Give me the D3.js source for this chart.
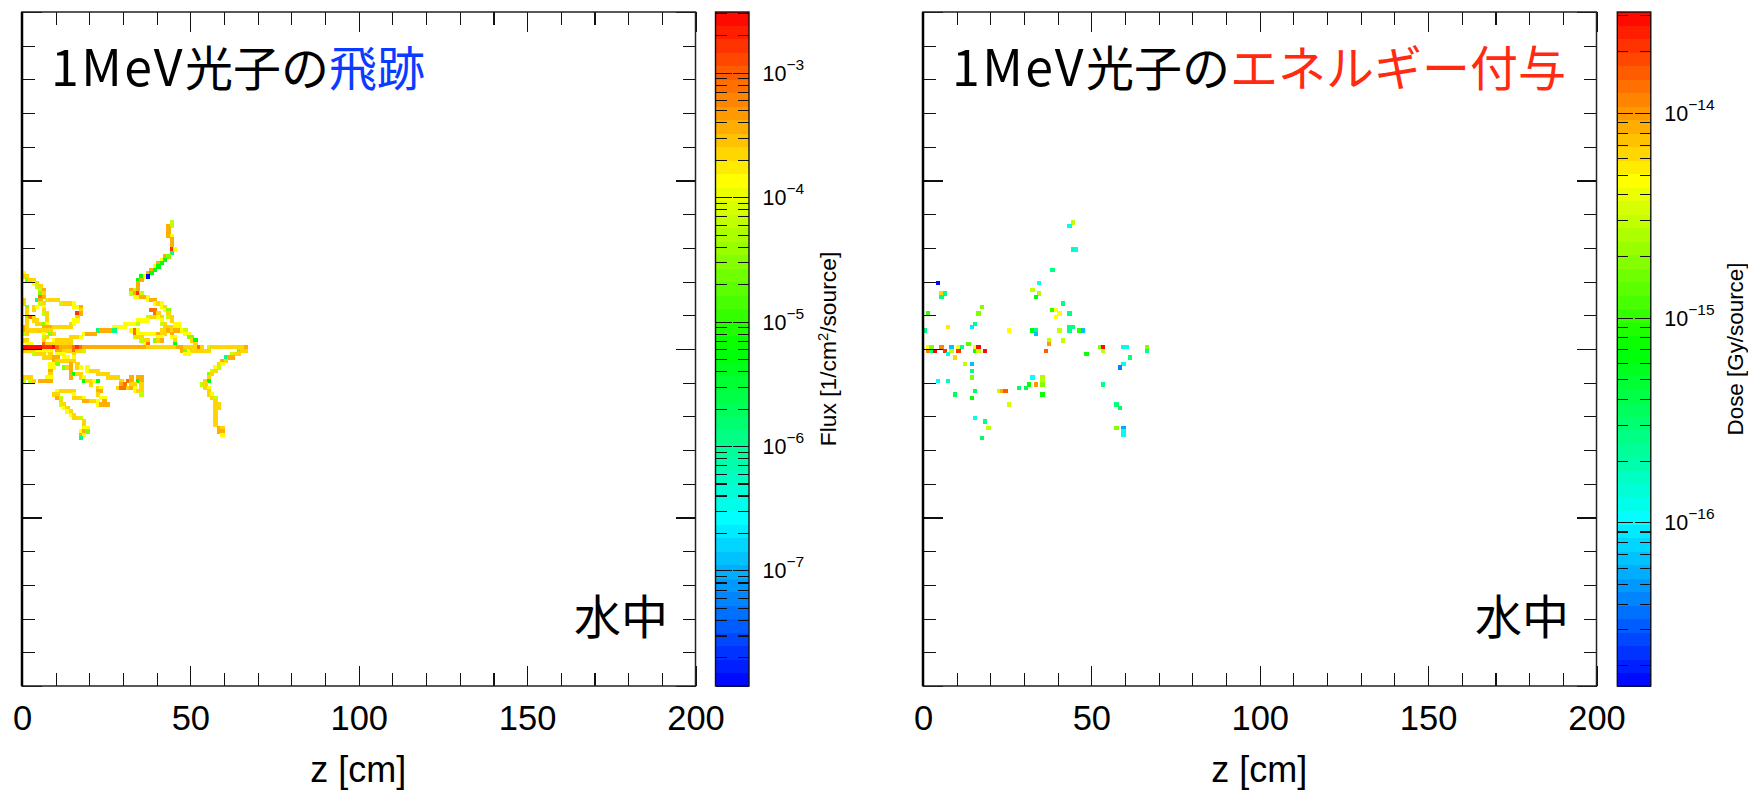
<!DOCTYPE html>
<html>
<head>
<meta charset="utf-8">
<script src="https://d3js.org/d3.v7.min.js"></script>
<style>
    body { margin: 0; background: #fff; }
    svg { display: block; }
    text { font-family: "Liberation Sans", sans-serif; fill: #000; }
    .jp { font-family: "Noto Sans CJK JP", sans-serif; }
    .domain { display: none; }
    .tick line { stroke: #111; stroke-width: 1.1; shape-rendering: crispEdges; }
</style>
</head>
<body>
<svg width="1748" height="790"></svg>

<script>
    // values, one cell = 1 cm x 1 cm, [y, [[z, value], ...]]
    const R = 3e-3, r = 1.6e-3, D = 8.7e-4, O = 3.9e-4, G = 2.2e-4, Y = 1.35e-4,
          W = 7e-5, L = 3e-5, N = 6e-6, S = 1.2e-6, B = 1.3e-8;

    const fluxRows = [
        [37, [[44,W]]],
        [36, [[43,O],[44,W]]],
        [35, [[43,O]]],
        [34, [[43,O]]],
        [33, [[43,O],[44,Y]]],
        [32, [[44,O]]],
        [31, [[44,O]]],
        [30, [[44,O]]],
        [29, [[44,r],[45,Y]]],
        [28, [[44,S]]],
        [27, [[42,O],[43,L]]],
        [26, [[41,Y],[42,N]]],
        [25, [[40,O],[41,N]]],
        [24, [[39,Y],[40,N]]],
        [23, [[38,O],[39,N]]],
        [22, [[0,Y],[37,O],[38,N]]],
        [21, [[0,G],[1,G],[35,N],[36,Y],[37,B]]],
        [20, [[1,L],[2,G],[3,G],[34,N],[35,O]]],
        [19, [[3,Y],[4,G],[34,O]]],
        [18, [[4,W],[5,G],[34,O]]],
        [17, [[5,W],[6,O],[32,O],[33,W],[34,O]]],
        [16, [[5,L],[6,G],[32,W],[33,O],[34,r],[35,W]]],
        [15, [[5,D],[6,O],[33,Y],[34,Y],[35,O],[36,O],[37,Y]]],
        [14, [[0,G],[4,S],[5,O],[7,W],[8,G],[9,G],[10,G],[37,Y],[38,O],[39,O]]],
        [13, [[0,G],[5,W],[6,G],[11,W],[12,G],[13,G],[14,G],[15,Y],[39,Y],[40,G],[41,Y]]],
        [12, [[1,L],[3,G],[4,Y],[6,Y],[15,Y],[16,Y],[17,O],[41,Y],[42,G]]],
        [11, [[1,G],[3,G],[6,G],[17,G],[38,D],[39,D],[42,Y],[43,L]]],
        [10, [[1,G],[6,W],[7,G],[16,r],[17,O],[39,D],[40,G],[43,G]]],
        [9, [[1,L],[2,D],[3,G],[7,G],[16,G],[37,W],[38,G],[39,G],[40,Y],[41,G],[43,W],[44,G]]],
        [8, [[1,G],[3,G],[4,G],[7,G],[15,Y],[16,Y],[34,Y],[35,Y],[36,Y],[37,Y],[41,Y],[44,G]]],
        [7, [[1,G],[4,G],[5,G],[6,L],[7,Y],[14,G],[15,Y],[30,Y],[31,Y],[32,Y],[33,Y],[34,W],[41,W],[42,G],[45,Y],[46,Y]]],
        [6, [[0,O],[1,G],[6,O],[7,O],[8,O],[9,G],[10,G],[11,G],[12,G],[13,G],[14,G],[27,Y],[28,Y],[29,Y],[30,Y],[42,G],[43,G],[44,G],[45,Y],[46,Y]]],
        [5, [[0,O],[1,G],[2,G],[3,G],[4,G],[5,G],[6,G],[7,G],[8,G],[22,S],[23,O],[24,O],[25,O],[26,O],[27,S],[32,Y],[33,D],[34,Y],[41,G],[42,G],[43,O],[44,G],[45,O],[46,O],[47,Y],[48,W]]],
        [4, [[0,W],[1,G],[6,Y],[8,L],[9,G],[18,Y],[19,O],[20,O],[21,O],[33,D],[34,Y],[35,Y],[36,Y],[37,Y],[38,Y],[39,Y],[40,O],[41,G],[42,G],[44,O],[48,Y],[49,Y]]],
        [3, [[6,W],[7,G],[14,G],[15,G],[16,G],[17,Y],[33,W],[34,G],[35,G],[40,Y],[41,Y],[44,Y],[45,Y],[49,L],[50,L]]],
        [2, [[0,G],[1,G],[6,G],[9,Y],[10,G],[11,G],[12,G],[13,G],[14,G],[35,W],[36,G],[37,G],[39,L],[40,G],[41,O],[45,G],[50,G],[51,N]]],
        [1, [[1,Y],[2,Y],[6,D],[7,G],[8,G],[9,G],[10,G],[11,G],[12,G],[13,G],[14,G],[36,Y],[37,D],[45,N],[51,G]]],
        [0, [[0,R],[1,R],[2,R],[3,R],[4,R],[5,R],[6,r],[7,r],[8,r],[9,R],[10,D],[11,O],[12,O],[13,O],[14,O],[15,D],[16,r],[17,D],
             [18,O],[19,O],[20,O],[21,O],[22,O],[23,O],[24,O],[25,O],[26,O],[27,O],[28,O],[29,O],[30,O],[31,O],[32,O],[33,O],[34,O],[35,O],[36,O],
             [37,G],[38,G],[39,G],[40,G],[41,G],[42,G],[43,G],[44,G],[45,G],[46,O],[47,O],[48,G],[49,G],[50,G],[51,G],[52,D],[53,G],[55,W],
             [56,G],[57,G],[58,G],[59,G],[60,G],[61,G],[62,G],[63,G],[64,G],[65,G],[66,O]]],
        [-1, [[0,G],[1,G],[2,G],[3,G],[4,Y],[5,Y],[6,Y],[7,Y],[8,Y],[10,O],[11,O],[12,G],[13,G],[14,G],[15,D],[16,G],[17,G],[18,W],[47,O],[48,L],[49,Y],[50,G],[51,G],[52,G],[53,G],[54,G],[55,G],[64,L],[65,G],[66,G]]],
        [-2, [[3,W],[4,G],[5,G],[6,G],[8,G],[10,Y],[11,Y],[12,Y],[15,G],[48,Y],[49,Y],[62,W],[63,G],[64,G]]],
        [-3, [[6,G],[7,G],[8,G],[9,O],[10,O],[12,Y],[13,Y],[15,Y],[60,S],[61,O],[62,O]]],
        [-4, [[9,O],[10,G],[11,G],[12,G],[13,G],[14,G],[15,G],[59,O],[60,G]]],
        [-5, [[8,Y],[9,Y],[10,L],[14,O],[16,G],[58,G],[59,Y]]],
        [-6, [[8,Y],[9,Y],[12,L],[13,G],[14,O],[16,G],[17,Y],[19,Y],[57,Y],[58,W]]],
        [-7, [[8,O],[14,O],[19,Y],[20,G],[21,G],[22,G],[56,W],[57,G]]],
        [-8, [[8,G],[14,O],[15,N],[16,G],[17,G],[22,G],[23,G],[24,G],[25,G],[55,L],[56,G]]],
        [-9, [[0,G],[1,G],[2,G],[7,Y],[8,Y],[14,O],[17,G],[18,Y],[25,G],[26,G],[27,G],[28,G],[32,O],[34,O],[35,O],[55,G]]],
        [-10, [[0,W],[2,W],[3,G],[5,O],[6,O],[7,O],[8,O],[18,N],[19,G],[20,G],[21,Y],[22,N],[29,G],[31,D],[32,O],[34,N],[35,O],[54,G],[55,N]]],
        [-11, [[20,G],[29,O],[30,D],[32,G],[33,G],[35,G],[53,W],[54,G]]],
        [-12, [[22,G],[23,Y],[28,G],[29,D],[30,D],[31,G],[32,O],[33,Y],[35,G],[54,G],[55,Y]]],
        [-13, [[10,Y],[11,G],[12,G],[13,G],[14,G],[15,G],[22,O],[23,O],[33,Y],[34,G],[35,G],[55,G]]],
        [-14, [[9,G],[10,G],[15,Y],[22,G],[35,W],[55,G],[56,Y]]],
        [-15, [[10,O],[11,W],[15,G],[16,G],[17,G],[18,Y],[23,Y],[24,Y],[56,G],[57,W]]],
        [-16, [[11,G],[18,O],[19,O],[20,G],[21,G],[22,Y],[24,O],[57,G]]],
        [-17, [[11,W],[12,G],[22,Y],[23,O],[24,O],[25,O],[57,G],[58,G]]],
        [-18, [[12,Y],[13,G],[57,G],[58,G]]],
        [-19, [[13,Y],[14,G],[57,G]]],
        [-20, [[14,Y],[15,G],[57,G]]],
        [-21, [[15,G],[16,G],[17,W],[57,G]]],
        [-22, [[18,G],[57,G]]],
        [-23, [[18,G],[57,G]]],
        [-24, [[18,Y],[19,Y],[58,O],[59,G]]],
        [-25, [[17,Y],[18,O],[19,L],[58,O],[59,O]]],
        [-26, [[17,O],[18,Y],[59,Y]]],
        [-27, [[17,S]]]
    ];

    // dose per cell [z, y, value]
    const doseCells = [
        [44,37,3.2e-15],[43,36,1.15e-16],[44,29,2e-16],[45,29,1.15e-16],[38,23,2.6e-16],
        [4,19,1.7e-17],[34,19,1e-16],[32,17,3.2e-15],[5,16,6.3e-15],[6,16,2.6e-16],[5,15,2.6e-16],
        [34,16,2.6e-15],[33,15,7e-16],[17,12,1.8e-15],[41,13,2.6e-16],[38,11,1e-15],[39,11,4.7e-15],
        [40,10,4.7e-15],[43,10,2.6e-16],[16,10,1.8e-15],[39,9,4.7e-15],[1,10,1e-15],[15,7,2.6e-16],
        [14,6,9e-17],[7,6,5.5e-15],[43,6,2.6e-16],[44,6,2.6e-16],[43,5,2.6e-16],[0,5,2.6e-16],
        [25,5,4.7e-15],[32,5,7e-16],[33,5,2.6e-16],[33,4,7e-17],[40,5,3.2e-15],[46,5,1e-15],[47,5,7e-17],
        [37,2,3.2e-15],[41,2,3.2e-15],[37,1,9.3e-15],[13,1,1.4e-15],
        [1,0,5e-15],[2,0,1.8e-15],[5,0,1.2e-14],[8,0,7e-17],[10,0,5e-15],[11,0,2.6e-16],[15,0,5e-15],
        [16,0,2.9e-14],[52,0,1.8e-15],[53,0,2.9e-14],[59,0,1.15e-16],[60,0,1.15e-16],[66,0,1.8e-15],
        [1,-1,1.2e-14],[2,-1,2.6e-16],[3,-1,2.9e-14],[6,-1,2.1e-14],[8,-1,3.2e-15],[10,-1,2.1e-14],
        [15,-1,8e-16],[16,-1,3.2e-15],[18,-1,2.9e-14],[36,-1,1.5e-14],[53,-1,3.2e-15],[66,-1,2.6e-16],
        [7,-2,1.15e-16],[48,-2,8e-16],[9,-3,6.3e-15],[61,-3,2.6e-16],
        [12,-5,3.2e-15],[14,-5,7e-17],[59,-5,1.15e-16],[58,-6,4e-17],[14,-7,2.6e-16],
        [14,-9,1.8e-15],[32,-9,1e-16],[35,-9,2.6e-15],[4,-10,1e-16],[7,-10,1.8e-16],[35,-10,3.2e-15],
        [31,-11,8e-16],[33,-11,9.3e-15],[35,-11,1.8e-15],[53,-11,2.6e-16],[28,-12,3.5e-16],[30,-12,3.5e-16],
        [15,-13,3.5e-16],[22,-13,3.2e-15],[23,-13,8e-15],[24,-13,1.5e-14],[9,-14,3.5e-16],[35,-14,8e-16],
        [14,-15,8e-16],[25,-17,3.5e-15],[57,-17,2.6e-16],[58,-18,3.5e-16],[15,-21,1.15e-16],[18,-22,2.6e-16],
        [19,-24,3.2e-15],[57,-24,1.8e-15],[59,-24,6e-17],[59,-25,1.15e-16],[59,-26,1.3e-16],[17,-27,3.5e-16]
    ];

    const fluxCells = fluxRows.flatMap(([y, row]) => row.map(([z, v]) => [z, y, v]));

    const xMajor = [0, 50, 100, 150, 200];
    const xMinor = d3.range(0, 201, 10).filter(d => d % 50 != 0);
    const yMajor = [-100, -50, 0, 50, 100];
    const yMinor = d3.range(-100, 101, 10).filter(d => d % 50 != 0);

    const svg = d3.select('svg');

    const rainbow = d3.scaleLinear()
        .domain([0, 0.25, 0.5, 0.75, 1])
        .range(['#0000ff', '#00ffff', '#00ff00', '#ffff00', '#ff0000']);
    const nBands = 50;

    const plotTop = 12, plotBottom = 686, plotW = 673.5;

    function addTicks(g, axisFn, scale, values, size, fmt) {
        g.call(axisFn(scale).tickValues(values).tickSize(size).tickFormat(fmt || ''));
    }

    function drawPanel(cfg) {
        const x = d3.scaleLinear().domain([0, 200]).range([cfg.left, cfg.left + plotW]);
        const y = d3.scaleLinear().domain([-100, 100]).range([plotBottom, plotTop]);
        const c = d3.scaleLog().domain(cfg.range).range([plotBottom - 1, plotTop + 0.5]);

        const band = v => {
            const f = (Math.log10(v) - Math.log10(cfg.range[0])) / (Math.log10(cfg.range[1]) - Math.log10(cfg.range[0]));
            return rainbow((Math.min(nBands - 1, Math.floor(f * nBands)) + 0.5) / nBands);
        };

        // cells snapped outward to whole pixels
        svg.append('g').attr('shape-rendering', 'crispEdges').selectAll('rect')
            .data(cfg.cells)
            .join('rect')
            .attr('x', d => Math.floor(x(d[0])))
            .attr('y', d => Math.floor(y(d[1] + 1)))
            .attr('width', d => Math.ceil(x(d[0] + 1)) - Math.floor(x(d[0])))
            .attr('height', d => Math.ceil(y(d[1])) - Math.floor(y(d[1] + 1)))
            .attr('fill', d => band(d[2]));

        // all four sides have ticks, labels only at the bottom
        const gb = svg.append('g').attr('transform', `translate(0,${plotBottom})`);
        addTicks(gb.append('g'), d3.axisBottom, x, xMinor, -13);
        addTicks(gb.append('g'), d3.axisBottom, x, xMajor, -20, d => d);
        gb.selectAll('text').attr('font-size', 34.5).attr('font-family', 'Liberation Sans').attr('y', 20).attr('dy', '0.71em');

        const gt = svg.append('g').attr('transform', `translate(0,${plotTop})`);
        addTicks(gt.append('g'), d3.axisTop, x, xMinor, -13);
        addTicks(gt.append('g'), d3.axisTop, x, xMajor, -20);

        const gl = svg.append('g').attr('transform', `translate(${cfg.left},0)`);
        addTicks(gl.append('g'), d3.axisLeft, y, yMinor, -13);
        addTicks(gl.append('g'), d3.axisLeft, y, yMajor, -20);

        const gr = svg.append('g').attr('transform', `translate(${cfg.left + plotW},0)`);
        addTicks(gr.append('g'), d3.axisRight, y, yMinor, -13);
        addTicks(gr.append('g'), d3.axisRight, y, yMajor, -20);

        svg.append('rect')
            .attr('x', cfg.left).attr('y', plotTop)
            .attr('width', plotW).attr('height', plotBottom - plotTop)
            .attr('fill', 'none').attr('stroke', '#222').attr('stroke-width', 1.5);
        svg.append('line')
            .attr('x1', cfg.left).attr('x2', cfg.left)
            .attr('y1', plotTop).attr('y2', plotBottom)
            .attr('stroke', '#000').attr('stroke-width', 2.5);

        svg.append('text')
            .attr('x', cfg.left + plotW / 2 - 0.5).attr('y', 782)
            .attr('text-anchor', 'middle').attr('font-size', 36)
            .text('z [cm]');

        // titles
        const title = svg.append('text').attr('class', 'jp')
            .attr('x', cfg.left + 29).attr('y', 86).attr('font-size', 48);
        title.append('tspan').attr('font-size', 50).attr('letter-spacing', 2.5).text('1MeV');
        title.append('tspan').text('光子の');
        title.append('tspan').style('fill', cfg.accent).text(cfg.accentText);

        svg.append('text').attr('class', 'jp')
            .attr('x', cfg.left + 552).attr('y', 634).attr('font-size', 47)
            .text('水中');

        // colour bar
        const barW = 33.5, barX = cfg.barX;
        svg.append('g').attr('shape-rendering', 'crispEdges').selectAll('rect')
            .data(d3.range(nBands))
            .join('rect')
            .attr('x', barX)
            .attr('y', d => plotBottom - (d + 1) * (plotBottom - plotTop) / nBands)
            .attr('width', barW)
            .attr('height', (plotBottom - plotTop) / nBands + 0.5)
            .attr('fill', d => rainbow((d + 0.5) / nBands));

        const decades = c.ticks().filter(d => Number.isInteger(Math.round(Math.log10(d) * 1e6) / 1e6));
        const minors = c.ticks().filter(d => !decades.includes(d));
        const gc1 = svg.append('g').attr('transform', `translate(${barX},0)`);
        addTicks(gc1.append('g'), d3.axisLeft, c, minors, -11);
        addTicks(gc1.append('g'), d3.axisLeft, c, decades, -16);
        const gc2 = svg.append('g').attr('transform', `translate(${barX + barW},0)`);
        addTicks(gc2.append('g'), d3.axisRight, c, minors, -11);
        addTicks(gc2.append('g'), d3.axisRight, c, decades, -16);

        svg.append('rect')
            .attr('x', barX).attr('y', plotTop)
            .attr('width', barW).attr('height', plotBottom - plotTop)
            .attr('fill', 'none').attr('stroke', '#111').attr('stroke-width', 1.4);

        const labels = svg.append('g').selectAll('text')
            .data(decades)
            .join('text')
            .attr('x', barX + barW + 13.5)
            .attr('y', d => c(d) + 8)
            .attr('font-size', 21.5);
        labels.append('tspan').text('10');
        labels.append('tspan')
            .attr('font-size', 15.5).attr('dy', -11)
            .text(d => '\u2212' + Math.round(-Math.log10(d)));

        const lab = svg.append('text')
            .attr('transform', `translate(${cfg.labelX},349) rotate(-90)`)
            .attr('text-anchor', 'middle').attr('font-size', cfg.labelSize);
        cfg.label.forEach(p => {
            lab.append('tspan')
                .attr('font-size', p.sup ? cfg.labelSize * 0.65 : cfg.labelSize)
                .attr('dy', p.sup ? -8 : (p.after ? 8 : 0))
                .text(p.t);
        });
    }

    drawPanel({
        left: 22, barX: 715.5, labelX: 836, labelSize: 22.8,
        cells: fluxCells, range: [1.2e-8, 3.05e-3],
        accent: '#0a3cff', accentText: '飛跡',
        label: [{t: 'Flux [1/cm'}, {t: '2', sup: true}, {t: '/source]', after: true}]
    });

    drawPanel({
        left: 923, barX: 1617.3, labelX: 1743, labelSize: 22.4,
        cells: doseCells, range: [1.6e-17, 3.1e-14],
        accent: '#ff2a10', accentText: 'エネルギー付与',
        label: [{t: 'Dose [Gy/source]'}]
    });
</script>
</body>
</html>
